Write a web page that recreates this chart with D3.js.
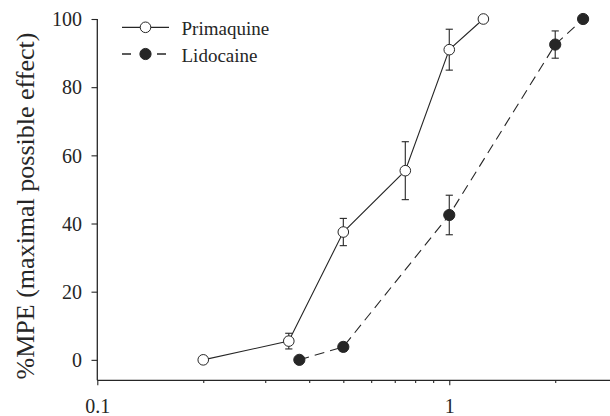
<!DOCTYPE html>
<html>
<head>
<meta charset="utf-8">
<script src="https://cdn.jsdelivr.net/npm/d3@7"></script>
<style>
  html, body { margin: 0; padding: 0; background: #fff; }
  svg { display: block; font-family: "Liberation Serif", "Times New Roman", serif; }
  svg text { font-family: "Liberation Serif", "Times New Roman", serif; font-weight: normal; }
</style>
</head>
<body>
<svg id="chart" width="610" height="416"></svg>
<script>
// Dose–response: %MPE vs dose (log scale)
const primaquineDose = [0.2, 0.35, 0.5, 0.75, 1.0, 1.25];
const primaquineMPE  = [0, 5.5, 37.5, 55.5, 91, 100];
const primaquineSEM  = [0, 2.3, 4, 8.5, 6, 0];

const lidocaineDose = [0.375, 0.5, 1.0, 2.0, 2.4];
const lidocaineMPE  = [0, 3.8, 42.5, 92.5, 100];
const lidocaineSEM  = [0, 1.3, 5.8, 4, 0];

const xTicks = [0.1, 0.2, 0.3, 0.4, 0.5, 0.6, 0.7, 0.8, 0.9, 1, 2, 3];
const xLabelled = [0.1, 1];
const yTicks = [0, 20, 40, 60, 80, 100];

const seriesNames = ["Primaquine", "Lidocaine"];

const ink = "#262626";
const svg = d3.select("#chart");

const x = d3.scaleLog().domain([0.1, 3]).range([97.3, 617.2]);
const y = d3.scaleLinear().domain([-6, 100]).range([380.3, 19]);

// axes
const xAxis = svg.append("g")
  .attr("transform", `translate(0,${y(-6)})`)
  .call(d3.axisBottom(x).tickValues(xTicks).tickSizeOuter(0)
    .tickFormat(d => xLabelled.includes(d) ? String(d) : ""));
xAxis.attr("font-family", null).attr("font-size", null);
xAxis.select(".domain").attr("stroke", ink).attr("stroke-width", 1.3)
  .attr("d", `M${x(0.1)},0H610`);
xAxis.selectAll(".tick line").attr("stroke", ink).attr("stroke-width", 1.1)
  .attr("y2", d => xLabelled.includes(d) ? 5 : 2.8);
xAxis.selectAll(".tick text").attr("fill", ink).attr("font-size", 20)
  .attr("y", 32.5).attr("dy", 0);

const yAxis = svg.append("g")
  .attr("transform", `translate(${x(0.1)},0)`)
  .call(d3.axisLeft(y).tickValues(yTicks).tickSize(5.8).tickPadding(9.5).tickSizeOuter(0));
yAxis.attr("font-family", null).attr("font-size", null);
yAxis.select(".domain").attr("stroke", ink).attr("stroke-width", 1.3)
  .attr("d", `M0,${y(100)}V${y(-6)}`);
yAxis.selectAll(".tick line").attr("stroke", ink).attr("stroke-width", 1.1);
yAxis.selectAll(".tick text").attr("fill", ink).attr("font-size", 20)
  .attr("dy", "0.34em");

// axis title
svg.append("text")
  .attr("transform", `translate(34,${(32 + 380) / 2}) rotate(-90)`)
  .attr("text-anchor", "middle")
  .attr("font-size", 26)
  .attr("fill", ink)
  .text("%MPE (maximal possible effect)");

function drawSeries(doses, vals, sems, dash, fill, r) {
  const pts = doses.map((d, i) => ({ d, v: vals[i], e: sems[i] }));
  const line = d3.line().x(p => x(p.d)).y(p => y(p.v));
  svg.append("path").datum(pts)
    .attr("d", line).attr("fill", "none").attr("stroke", ink)
    .attr("stroke-width", 1.1).attr("stroke-dasharray", dash);

  const eb = svg.append("g").attr("stroke", ink).attr("stroke-width", 1.1);
  pts.filter(p => p.e > 0).forEach(p => {
    const cx = x(p.d), y1 = y(p.v + p.e), y2 = y(p.v - p.e);
    eb.append("line").attr("x1", cx).attr("x2", cx).attr("y1", y1).attr("y2", y2);
    eb.append("line").attr("x1", cx - 3.6).attr("x2", cx + 3.6).attr("y1", y1).attr("y2", y1);
    eb.append("line").attr("x1", cx - 3.6).attr("x2", cx + 3.6).attr("y1", y2).attr("y2", y2);
  });

  svg.append("g").selectAll("circle").data(pts).join("circle")
    .attr("cx", p => x(p.d)).attr("cy", p => y(p.v)).attr("r", r)
    .attr("fill", fill).attr("stroke", ink).attr("stroke-width", 1);
}

drawSeries(primaquineDose, primaquineMPE, primaquineSEM, null, "#fff", 5.3);
drawSeries(lidocaineDose, lidocaineMPE, lidocaineSEM, "10,6", ink, 5.6);

// legend
const legend = svg.append("g");
const legendRows = [
  { name: seriesNames[0], cy: 27.3, dash: null, fill: "#fff", r: 5.3 },
  { name: seriesNames[1], cy: 54, dash: "9,26,9,10", fill: ink, r: 5.6 }
];
legendRows.forEach(row => {
  legend.append("line").attr("x1", 122).attr("x2", 169)
    .attr("y1", row.cy).attr("y2", row.cy)
    .attr("stroke", ink).attr("stroke-width", 1.3)
    .attr("stroke-dasharray", row.dash);
  legend.append("circle").attr("cx", 145.5).attr("cy", row.cy).attr("r", row.r)
    .attr("fill", row.fill).attr("stroke", ink).attr("stroke-width", 1);
  legend.append("text").attr("x", 181.5).attr("y", row.cy + 7.5)
    .attr("font-size", 19).attr("fill", ink).text(row.name);
});
</script>
</body>
</html>
